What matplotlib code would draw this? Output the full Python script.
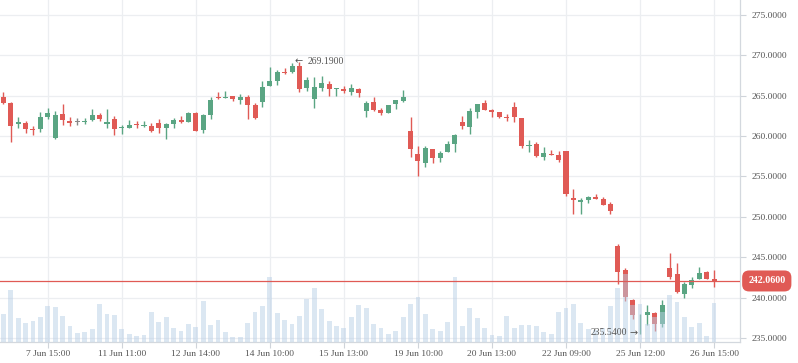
import numpy as np
import matplotlib
matplotlib.use('Agg')
import matplotlib.pyplot as plt
from matplotlib.transforms import blended_transform_factory

plt.rcParams['font.family'] = ['Liberation Serif', 'DejaVu Serif']

# OHLC per candle (hourly bars, index 0..96)
opens = [264.86, 264.08, 261.55, 261.64, 260.93, 260.86, 262.38, 259.82, 262.75, 261.92,
         261.80, 261.80, 261.97, 262.63, 261.55, 262.13, 260.98, 261.06, 261.51, 261.30,
         261.27, 261.64, 261.06, 261.55, 262.01, 261.80, 262.88, 260.81, 262.63, 264.86,
         264.77, 264.98, 264.52, 264.86, 263.87, 264.24, 266.22, 266.84, 267.95, 267.95,
         268.69, 265.97, 264.64, 265.97, 266.46, 265.85, 265.85, 265.47, 265.85, 263.12,
         264.24, 263.25, 262.88, 263.99, 264.36, 260.65, 257.80, 256.69, 258.42, 257.31,
         258.05, 259.04, 261.76, 261.14, 263.00, 264.11, 263.21, 263.00, 262.38, 263.62,
         262.26, 258.79, 259.04, 257.43, 257.80, 257.68, 258.17, 252.36, 251.86, 252.11,
         252.48, 252.24, 251.62, 246.42, 243.45, 239.74, 237.80, 237.88, 238.13, 236.77,
         243.70, 242.96, 240.48, 241.60, 242.34, 243.20, 242.34]
highs = [265.51, 264.20, 262.38, 261.89, 261.23, 262.96, 263.46, 263.12, 264.03, 262.34,
         262.22, 262.22, 263.37, 262.88, 263.37, 262.54, 261.39, 262.05, 261.89, 261.89,
         261.60, 262.13, 261.60, 262.26, 262.50, 263.00, 262.95, 262.68, 264.86, 265.47,
         265.60, 265.02, 265.23, 265.10, 264.11, 266.84, 268.57, 268.20, 268.44, 269.00,
         269.19, 267.33, 267.33, 267.45, 266.84, 266.00, 266.22, 266.46, 265.90, 264.36,
         264.86, 263.49, 263.90, 264.52, 265.72, 262.38, 258.79, 258.79, 258.45, 258.17,
         259.41, 260.28, 262.50, 263.49, 264.02, 264.48, 263.37, 263.04, 262.75, 264.24,
         262.30, 259.54, 259.29, 258.67, 258.30, 258.17, 258.20, 253.47, 252.36, 252.61,
         252.85, 252.48, 251.86, 246.67, 243.70, 239.78, 237.92, 239.12, 238.17, 239.74,
         245.56, 244.32, 241.97, 242.59, 243.82, 243.25, 243.45]
lows = [263.95, 259.33, 260.98, 260.44, 260.19, 260.56, 262.17, 259.66, 261.43, 261.27,
        261.43, 261.55, 261.89, 261.89, 261.06, 260.15, 260.31, 260.98, 261.06, 261.14,
        260.56, 260.44, 259.66, 261.06, 261.64, 261.76, 260.62, 260.44, 262.13, 264.64,
        264.73, 264.40, 263.99, 262.17, 262.17, 263.62, 266.18, 266.34, 267.70, 267.82,
        265.47, 265.60, 263.53, 265.60, 264.98, 264.98, 265.35, 265.10, 264.86, 262.38,
        263.12, 262.63, 262.85, 263.37, 264.24, 257.43, 255.08, 256.19, 256.69, 256.81,
        258.00, 258.05, 260.90, 260.28, 262.26, 263.20, 262.38, 262.26, 261.89, 261.76,
        258.55, 258.05, 257.43, 257.06, 257.65, 256.81, 252.61, 250.38, 250.38, 251.74,
        252.20, 251.45, 250.38, 241.72, 239.53, 237.39, 235.54, 236.65, 235.90, 236.31,
        242.34, 240.61, 239.99, 241.22, 242.30, 242.30, 241.35]
closes = [264.15, 261.30, 261.80, 260.86, 260.81, 262.38, 262.88, 262.63, 262.05, 261.68,
          261.80, 261.92, 262.63, 262.17, 261.76, 260.86, 261.14, 261.39, 261.35, 261.43,
          260.69, 261.06, 261.51, 262.01, 261.76, 262.88, 260.69, 262.63, 264.48, 264.73,
          264.86, 264.64, 264.86, 263.87, 262.29, 266.09, 266.84, 267.95, 267.82, 268.69,
          265.85, 266.96, 266.09, 266.59, 265.85, 265.97, 265.60, 265.97, 265.35, 264.11,
          263.25, 262.88, 263.87, 264.48, 264.86, 258.42, 256.94, 258.55, 257.31, 257.93,
          259.04, 260.15, 261.27, 263.12, 263.99, 263.25, 263.04, 262.38, 262.26, 262.38,
          258.79, 258.92, 257.56, 257.93, 257.68, 257.06, 252.85, 252.11, 252.11, 252.48,
          252.24, 251.49, 250.75, 243.20, 240.02, 237.88, 237.88, 238.26, 236.77, 239.12,
          242.59, 240.73, 241.72, 242.21, 243.08, 242.34, 242.06]
volumes = [28, 52, 24, 19, 21, 25, 36, 35, 26, 16, 9, 10, 13, 38, 28, 27, 13, 8, 6, 7,
           30, 20, 25, 14, 11, 18, 15, 41, 17, 22, 10, 5, 5, 19, 30, 36, 65, 29, 22, 18,
           26, 43, 54, 33, 21, 16, 14, 25, 37, 34, 18, 14, 8, 11, 25, 38, 45, 28, 13, 11,
           20, 65, 16, 34, 24, 14, 7, 6, 26, 14, 17, 17, 16, 10, 8, 30, 34, 38, 19, 13,
           12, 14, 36, 54, 68, 37, 38, 18, 25, 30, 47, 40, 25, 15, 19, 6, 39]

tick_idx = [6, 16, 26, 36, 46, 56, 66, 76, 86, 96]
tick_labels = ['7 Jun 15:00', '11 Jun 11:00', '12 Jun 14:00', '14 Jun 10:00', '15 Jun 13:00',
               '19 Jun 10:00', '20 Jun 13:00', '22 Jun 09:00', '25 Jun 12:00', '26 Jun 15:00']

last_price = 242.06
hi_idx, lo_idx = 40, 86

UP = '#5aa583'
DOWN = '#e05a55'
TXT = '#555555'

o = np.array(opens); h = np.array(highs); l = np.array(lows); c = np.array(closes)
x = np.arange(len(o))
col = np.where(c > o, UP, np.where(c < o, DOWN, '#888888'))

fig = plt.figure(figsize=(7.98, 3.63), dpi=100)
ax = fig.add_axes([0, 21 / 363, 740 / 798, 342 / 363])

ax.vlines(x, l, h, colors=col, linewidth=1.0, zorder=2)
body_h = np.maximum(np.abs(c - o), 0.1)
ax.bar(x, body_h, bottom=np.minimum(o, c), width=0.68, color=col, zorder=3)

# volume on a hidden twin axis, drawn over the candles
axv = ax.twinx()
axv.bar(x, volumes, width=0.65, color='#b9d0e6', alpha=0.5, zorder=1)
axv.set_ylim(0, max(volumes) * 342 / 68)
axv.set_yticks([])
for s in axv.spines.values():
    s.set_visible(False)

ax.set_xlim(-0.45, 99.5)
ax.set_ylim(234.5, 276.86)
ax.set_yticks(np.arange(235, 276, 5))
ax.yaxis.set_major_formatter(matplotlib.ticker.FormatStrFormatter('%.4f'))
ax.yaxis.tick_right()
ax.tick_params(axis='y', left=False, labelleft=False, right=True, labelright=True, pad=4)
ax.set_xticks(tick_idx)
ax.set_xticklabels(tick_labels)
ax.tick_params(axis='both', colors='#cfd4da', labelcolor=TXT, labelsize=6.8, length=4, width=0.8)
ax.tick_params(axis='x', pad=2)
ax.grid(True, color='#eceef1', linewidth=0.9, zorder=0)
ax.set_axisbelow(True)
for s in ['left', 'top']:
    ax.spines[s].set_visible(False)
for s in ['right', 'bottom']:
    ax.spines[s].set_color('#d3d8de')
    ax.spines[s].set_linewidth(0.9)

tr = blended_transform_factory(ax.transAxes, ax.transData)
axv.plot([0, 1], [last_price, last_price], color=DOWN, linewidth=0.9, transform=tr, zorder=5)
axv.text(1.011, last_price, '%.4f' % last_price, transform=tr, color='white', fontsize=7.2,
         fontweight='bold', ha='left', va='center', clip_on=False, zorder=6,
         bbox=dict(boxstyle='round,pad=0.6,rounding_size=0.7', fc=DOWN, ec='none'))

# max / min markers
ax.annotate('\u2190', (hi_idx, highs[hi_idx]), xytext=(-3.5, 0.5), textcoords='offset points',
            color=TXT, fontsize=7, ha='left', va='center', family=['DejaVu Sans'], zorder=6)
ax.annotate('%.4f' % highs[hi_idx], (hi_idx, highs[hi_idx]), xytext=(6, 0.5),
            textcoords='offset points', color=TXT, fontsize=7, ha='left', va='center', zorder=6)
axv.annotate('\u2192', (lo_idx, lows[lo_idx]), xycoords=ax.transData, xytext=(-1.5, 0.5),
             textcoords='offset points', color=TXT, fontsize=7, ha='right', va='center',
             family=['DejaVu Sans'], zorder=6)
axv.annotate('%.4f' % lows[lo_idx], (lo_idx, lows[lo_idx]), xycoords=ax.transData,
             xytext=(-9, 0.5), textcoords='offset points', color=TXT, fontsize=7,
             ha='right', va='center', zorder=6)

fig.savefig('out.png', dpi=100)
